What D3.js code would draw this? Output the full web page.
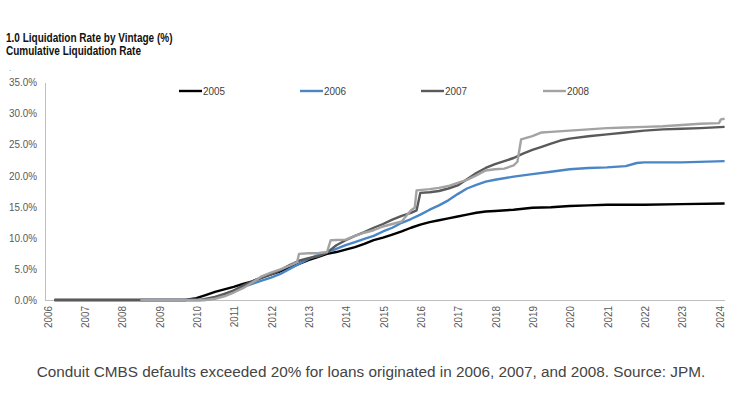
<!DOCTYPE html>
<html>
<head>
<meta charset="utf-8">
<script src="https://cdnjs.cloudflare.com/ajax/libs/d3/7.9.0/d3.min.js"></script>
<style>
  html, body { margin: 0; padding: 0; background: #fff; }
  svg { display: block; }
</style>
</head>
<body>
<div id="chart"></div>
<script>
// Cumulative liquidation rate by vintage (%)
const years = d3.range(2006, 2025);
const yTicks = [0, 5, 10, 15, 20, 25, 30, 35];

// [year fraction, cumulative %]
const v2005 = [
  [2006.2, 0], [2009.7, 0], [2010.0, 0.3], [2010.25, 0.8], [2010.5, 1.3], [2010.75, 1.7],
  [2011, 2.1], [2011.25, 2.6], [2011.5, 3.0], [2011.75, 3.6], [2012, 4.1], [2012.25, 4.6],
  [2012.5, 5.2], [2012.75, 5.8], [2013, 6.4], [2013.25, 6.9], [2013.5, 7.4], [2013.75, 7.7],
  [2014, 8.1], [2014.25, 8.5], [2014.5, 9.0], [2014.75, 9.6], [2015, 10.0], [2015.25, 10.5],
  [2015.5, 11.0], [2015.75, 11.6], [2016, 12.1], [2016.25, 12.5], [2016.5, 12.8], [2016.75, 13.1],
  [2017, 13.4], [2017.25, 13.7], [2017.5, 14.0], [2017.75, 14.2], [2018, 14.3], [2018.5, 14.5],
  [2019, 14.8], [2019.5, 14.9], [2020, 15.1], [2020.5, 15.2], [2021, 15.3], [2022, 15.3],
  [2023, 15.4], [2024.15, 15.5]
];
const v2006 = [
  [2008.5, 0], [2010.2, 0], [2010.5, 0.3], [2010.75, 0.9], [2011, 1.5], [2011.25, 2.1],
  [2011.5, 2.6], [2011.75, 3.1], [2012, 3.6], [2012.25, 4.2], [2012.5, 5.0], [2012.75, 5.8],
  [2013, 6.6], [2013.25, 7.2], [2013.5, 7.7], [2013.75, 8.2], [2014, 8.8], [2014.25, 9.3],
  [2014.5, 9.8], [2014.75, 10.3], [2015, 11.0], [2015.25, 11.6], [2015.5, 12.4], [2015.75, 13.0],
  [2016, 13.7], [2016.25, 14.5], [2016.5, 15.2], [2016.75, 16.0], [2017, 17.0], [2017.25, 17.9],
  [2017.5, 18.5], [2017.75, 19.0], [2018, 19.3], [2018.5, 19.8], [2019, 20.2], [2019.5, 20.6],
  [2020, 21.0], [2020.5, 21.2], [2021, 21.3], [2021.5, 21.5], [2021.8, 22.0], [2022, 22.1],
  [2023, 22.1], [2024.15, 22.3]
];
const v2007 = [
  [2006.2, 0], [2010.1, 0], [2010.5, 0.5], [2010.75, 1.0], [2011, 1.5], [2011.25, 2.3],
  [2011.5, 3.0], [2011.75, 3.6], [2012, 4.1], [2012.25, 4.8], [2012.5, 5.6], [2012.75, 6.3],
  [2013, 6.7], [2013.25, 7.0], [2013.5, 7.6], [2013.75, 8.8], [2014, 9.6], [2014.25, 10.3],
  [2014.5, 10.9], [2014.75, 11.6], [2015, 12.2], [2015.25, 12.9], [2015.5, 13.5], [2015.75, 14.0],
  [2015.9, 14.4], [2016.0, 17.2], [2016.25, 17.3], [2016.5, 17.5], [2016.75, 17.9], [2017, 18.4],
  [2017.25, 19.4], [2017.5, 20.4], [2017.75, 21.2], [2018, 21.8], [2018.25, 22.3], [2018.5, 22.8],
  [2018.75, 23.5], [2019, 24.1], [2019.25, 24.6], [2019.5, 25.1], [2019.75, 25.6], [2020, 25.9],
  [2020.5, 26.3], [2021, 26.6], [2021.5, 26.9], [2022, 27.2], [2022.5, 27.4], [2023, 27.5],
  [2023.5, 27.6], [2024.15, 27.8]
];
const v2008 = [
  [2008.5, 0], [2010.25, 0], [2010.5, 0.2], [2010.75, 0.6], [2011, 1.2], [2011.25, 1.9],
  [2011.5, 2.8], [2011.75, 3.8], [2012, 4.4], [2012.25, 4.9], [2012.5, 5.5], [2012.7, 6.1],
  [2012.75, 7.4], [2013, 7.5], [2013.25, 7.5], [2013.5, 7.7], [2013.6, 9.6], [2014, 9.7],
  [2014.25, 10.3], [2014.5, 10.8], [2014.75, 11.2], [2015, 11.8], [2015.25, 12.2], [2015.5, 12.6],
  [2015.75, 14.4], [2015.85, 14.8], [2015.9, 17.6], [2016.25, 17.8], [2016.5, 18.0], [2016.75, 18.3],
  [2017, 18.8], [2017.25, 19.3], [2017.5, 20.0], [2017.75, 20.8], [2018, 21.0], [2018.25, 21.1],
  [2018.5, 21.6], [2018.6, 22.2], [2018.7, 25.8], [2019, 26.3], [2019.25, 26.9], [2019.5, 27.0],
  [2020, 27.2], [2020.5, 27.4], [2021, 27.6], [2021.5, 27.7], [2022, 27.8], [2022.5, 27.9],
  [2023, 28.1], [2023.5, 28.3], [2024, 28.4], [2024.05, 29.0], [2024.15, 29.1]
];

const seriesNames = ['2005', '2006', '2007', '2008'];
const seriesData = [v2005, v2006, v2007, v2008];
const seriesColors = ['#000000', '#4a86c6', '#5a5a5a', '#a3a3a3'];

const title1 = '1.0 Liquidation Rate by Vintage (%)';
const title2 = 'Cumulative Liquidation Rate';
const caption = 'Conduit CMBS defaults exceeded 20% for loans originated in 2006, 2007, and 2008. Source: JPM.';

(function () {
  const width = 741, height = 396;
  const face = '"Liberation Sans", Arial, sans-serif';

  const svg = d3.select('#chart').append('svg')
    .attr('width', width)
    .attr('height', height);

  // squeeze text horizontally to mimic the narrow face of the original
  function narrow(sel, k) {
    sel.each(function () {
      const w = this.getComputedTextLength();
      d3.select(this).attr('textLength', w * k).attr('lengthAdjust', 'spacingAndGlyphs');
    });
  }

  const x = d3.scaleLinear().domain([2006, 2024]).range([47, 719]);
  const y = d3.scaleLinear().domain([0, 35]).range([300, 82]);

  // titles
  svg.append('text').attr('x', 6).attr('y', 42)
    .style('font', 'bold 12.5px ' + face).attr('fill', '#111').text(title1).call(narrow, 0.8);
  svg.append('text').attr('x', 6).attr('y', 55)
    .style('font', 'bold 12.5px ' + face).attr('fill', '#111').text(title2).call(narrow, 0.8);
  svg.append('text').attr('x', 9).attr('y', 71)
    .style('font', '8px ' + face).attr('fill', '#4a86c6').text('.');

  // axis lines
  svg.append('line')
    .attr('x1', 45.5).attr('x2', 45.5).attr('y1', y(35) + 1).attr('y2', y(0))
    .attr('stroke', '#bfbfbf').attr('stroke-width', 1);
  svg.append('line')
    .attr('x1', 45).attr('x2', x(2024.16)).attr('y1', y(0) + 0.5).attr('y2', y(0) + 0.5)
    .attr('stroke', '#bfbfbf').attr('stroke-width', 1);

  // y ticks
  const yAxis = d3.axisLeft(y).tickValues(yTicks).tickSize(0).tickPadding(0)
    .tickFormat(d => d.toFixed(1) + '%');
  const gy = svg.append('g').attr('transform', 'translate(37,0)').call(yAxis);
  gy.select('.domain').remove();
  gy.selectAll('text').style('font', '11.5px ' + face).attr('fill', '#595959').call(narrow, 0.86);

  // x ticks (rotated)
  const gx = svg.append('g').attr('transform', `translate(0,${y(0) + 5})`)
    .call(d3.axisBottom(x).tickValues(years).tickSize(0).tickFormat(d3.format('d')));
  gx.select('.domain').remove();
  gx.selectAll('text')
    .style('font', '11.5px ' + face).attr('fill', '#595959')
    .attr('transform', 'rotate(-90)')
    .attr('text-anchor', 'end')
    .attr('x', -1).attr('y', 0).attr('dy', '0.35em')
    .call(narrow, 0.86);

  // lines
  const line = d3.line().x(d => x(d[0])).y(d => y(d[1]));
  svg.append('g').selectAll('path')
    .data(seriesData)
    .join('path')
    .attr('d', line)
    .attr('fill', 'none')
    .attr('stroke', (d, i) => seriesColors[i])
    .attr('stroke-width', 2.4)
    .attr('stroke-linejoin', 'round');

  // legend
  const legX = [179, 300, 421, 543];
  const leg = svg.append('g').selectAll('g')
    .data(seriesNames)
    .join('g')
    .attr('transform', (d, i) => `translate(${legX[i]},91)`);
  leg.append('line').attr('x1', 0).attr('x2', 23)
    .attr('stroke', (d, i) => seriesColors[i]).attr('stroke-width', 2.4);
  leg.append('text').attr('x', 24).attr('dy', '0.35em')
    .style('font', '11.5px ' + face).attr('fill', '#404040').text(d => d).call(narrow, 0.86);

  // caption
  svg.append('text').attr('x', width / 2 + 0.5).attr('y', 377)
    .attr('text-anchor', 'middle')
    .style('font', '15.3px ' + face)
    .attr('fill', '#444').text(caption);
})();
</script>
</body>
</html>
